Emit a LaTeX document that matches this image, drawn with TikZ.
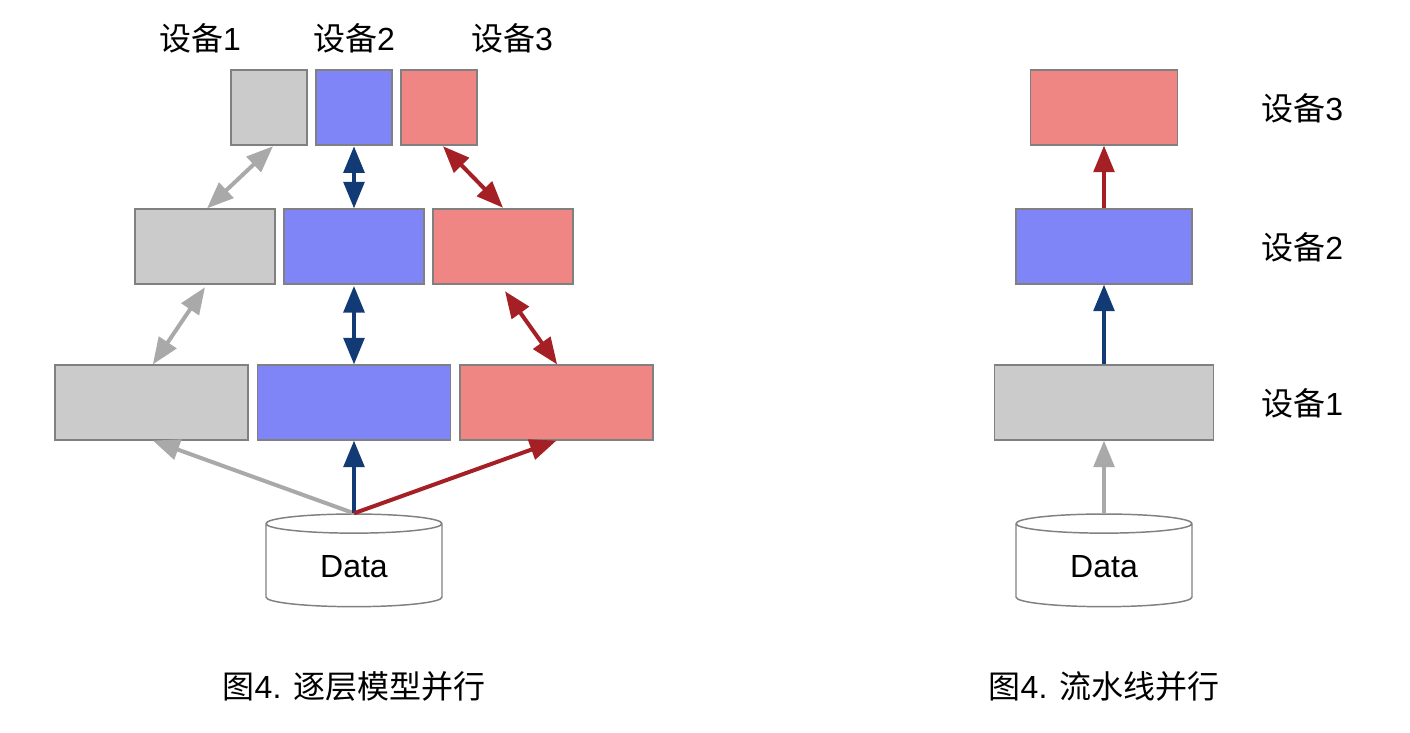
\documentclass[tikz,border=0pt]{standalone}
\usepackage{fontspec}
\setmainfont{Liberation Sans}
\newfontfamily\cjk{Noto Sans CJK SC}
\usetikzlibrary{arrows.meta,shapes.geometric}
\definecolor{grayfill}{HTML}{CBCBCB}
\definecolor{bluefill}{HTML}{7F85F7}
\definecolor{redfill}{HTML}{F08684}
\definecolor{grayline}{HTML}{A9A9A9}
\definecolor{blueline}{HTML}{123A75}
\definecolor{redline}{HTML}{A52025}
\newcommand{\dev}[1]{{\cjk 设备}#1}
\tikzset{
  box/.style={draw=black!50,line width=1.1pt,minimum height=56pt,inner sep=0pt},
  database/.style={cylinder,shape border rotate=90,aspect=.25,draw=black!50,line width=1.1pt,
    minimum width=132pt,minimum height=69.5pt,font=\fontsize{24}{28}\selectfont},
  link/.style={line width=3pt,>={Triangle[length=20pt,width=15.5pt]}},
  txt/.style={font=\fontsize{24}{28}\selectfont,inner sep=0pt}
}
\begin{document}
\begin{tikzpicture}[x=0.75pt,y=-0.75pt]
  \useasboundingbox (0,0) rectangle (1410,732);
  % left
  \node[txt] (name1) at (200,38) {\dev{1}};
  \node[txt] (name2) at (354,38) {\dev{2}};
  \node[txt] (name3) at (512,38) {\dev{3}};
  \node[box,fill=grayfill,minimum width=57pt] (gray3) at (269,107.5) {};
  \node[box,fill=bluefill,minimum width=57pt] (blue3) at (354,107.5) {};
  \node[box,fill=redfill,minimum width=57pt] (red3) at (439,107.5) {};
  \node[box,fill=grayfill,minimum width=105pt] (gray2) at (205,246.5) {};
  \node[box,fill=bluefill,minimum width=105pt] (blue2) at (354,246.5) {};
  \node[box,fill=redfill,minimum width=105pt] (red2) at (503,246.5) {};
  \node[box,fill=grayfill,minimum width=145pt] (gray1) at (151.5,402.5) {};
  \node[box,fill=bluefill,minimum width=145pt] (blue1) at (354,402.5) {};
  \node[box,fill=redfill,minimum width=145pt] (red1) at (556.5,402.5) {};
  \node[database] (data) at (354,567) {Data};
  \draw[link,<->,grayline] ([xshift=3pt,yshift=-.5pt]gray3.south) -- ([xshift=1.5pt]gray2.north);
  \draw[link,<->,blueline] ([yshift=-.5pt]blue3.south) -- (blue2.north);
  \draw[link,<->,redline] ([xshift=3pt,yshift=-.5pt]red3.south) -- ([yshift=.5pt]red2.north);
  \draw[link,<->,grayline] ([yshift=-2pt]gray2.south) -- ([xshift=1pt]gray1.north);
  \draw[link,<->,blueline] ([yshift=-1pt]blue2.south) -- (blue1.north);
  \draw[link,<->,redline] ([xshift=1.5pt,yshift=-5pt]red2.south) -- ([xshift=.5pt]red1.north);
  \draw[link,->,grayline] (data.top) -- ([xshift=1pt]gray1.south);
  \draw[link,->,blueline] (data.top) -- (blue1.south);
  \draw[link,->,redline] (data.top) -- (red1.south);
  \node[txt] (cap1) at (354,686) {{\cjk 图}4. {\cjk 逐层模型并行}};
  % right
  \node[box,fill=redfill,minimum width=110pt] (pipe3) at (1104,107.5) {};
  \node[box,fill=bluefill,minimum width=132pt] (pipe2) at (1104,246.5) {};
  \node[box,fill=grayfill,minimum width=164pt] (pipe1) at (1104,402.5) {};
  \node[database] (store) at (1104,567) {Data};
  \node[txt,anchor=west] (label3) at (1261,108) {\dev{3}};
  \node[txt,anchor=west] (label2) at (1261,247) {\dev{2}};
  \node[txt,anchor=west] (label1) at (1261,403) {\dev{1}};
  \draw[link,->,grayline] (store.top) -- (pipe1.south);
  \draw[link,->,blueline] (pipe1.north) -- (pipe2.south);
  \draw[link,->,redline] (pipe2.north) -- (pipe3.south);
  \node[txt] (cap2) at (1104,686) {{\cjk 图}4. {\cjk 流水线并行}};
\end{tikzpicture}
\end{document}
